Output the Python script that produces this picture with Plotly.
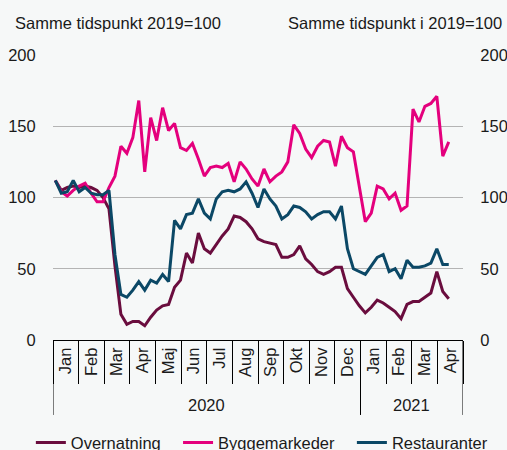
import numpy as np
import plotly.graph_objects as go

# ---- data (weekly index, same time 2019 = 100) ----
months = ["Jan", "Feb", "Mar", "Apr", "Maj", "Jun", "Jul", "Aug", "Sep", "Okt", "Nov", "Dec",
          "Jan", "Feb", "Mar", "Apr"]
years = ["2020", "2021"]
months_per_year = [12, 4]
y_ticks = [0, 50, 100, 150, 200]

overnatning = [112, 105, 107, 108, 107, 108, 107, 105, 100, 92, 52, 18, 11, 13, 13, 10, 16, 21,
               24, 25, 37, 42, 61, 54, 75, 64, 61, 67, 73, 78, 87, 86, 83, 78, 71, 69, 68, 67,
               58, 58, 60, 66, 57, 53, 48, 46, 48, 51, 51, 36, 30, 24, 19, 23, 28, 26, 23, 20,
               15, 25, 27, 27, 30, 33, 48, 34, 29]
byggemarkeder = [112, 104, 101, 105, 108, 110, 103, 97, 97, 107, 115, 136, 131, 142, 168, 118,
                 156, 140, 163, 147, 152, 135, 133, 138, 127, 115, 121, 122, 121, 124, 111, 125,
                 120, 113, 108, 120, 111, 115, 118, 125, 151, 145, 134, 128, 136, 140, 139, 122,
                 143, 135, 132, 108, 83, 89, 108, 106, 99, 103, 91, 94, 162, 153, 164, 166, 171,
                 129, 139]
restauranter = [112, 103, 104, 112, 104, 107, 103, 102, 102, 105, 60, 32, 30, 35, 41, 35, 42, 40,
                46, 41, 84, 78, 88, 89, 99, 89, 85, 99, 104, 105, 104, 106, 111, 103, 93, 106, 99,
                94, 85, 88, 94, 93, 90, 85, 88, 90, 90, 85, 94, 64, 50, 48, 46, 52, 58, 60, 48,
                50, 43, 56, 51, 51, 52, 54, 64, 53, 53]

series = [("Overnatning", overnatning, "#6a0d3e", "legend"),
          ("Byggemarkeder", byggemarkeder, "#e4007d", "legend2"),
          ("Restauranter", restauranter, "#0b4866", "legend3")]

weeks = np.arange(len(overnatning))

# axis geometry (week units; months drawn as equal-width groups)
X0, X1 = -0.39, 68.39
edges = np.linspace(X0, X1, len(months) + 1)
centers = (edges[:-1] + edges[1:]) / 2

FONT = "Liberation Sans, Arial, sans-serif"
FS = 16.5
TXT = "#1a1a1a"
BG = "#f6f8f8"

fig = go.Figure()
for name, vals, col, lg in series:
    fig.add_trace(go.Scatter(x=weeks, y=vals, mode="lines", name=name,
                             line=dict(color=col, width=3), legend=lg))

# invisible trace on right axis so it is drawn
fig.add_trace(go.Scatter(x=[weeks[0]], y=[overnatning[0]], yaxis="y2", mode="lines",
                         showlegend=False, hoverinfo="skip", line=dict(width=0)))

shapes = []
# reference line at 100
shapes.append(dict(type="line", xref="paper", x0=0, x1=1, yref="y", y0=100, y1=100,
                   line=dict(color="black", width=1), layer="between"))
# year separators
bounds = [0] + list(np.cumsum(months_per_year))
for b in bounds:
    shapes.append(dict(type="line", xref="x", x0=edges[b], x1=edges[b], yref="paper",
                       y0=0, y1=-0.263, line=dict(color="black", width=1)))

annotations = []
for k, yr in enumerate(years):
    annotations.append(dict(text=yr, xref="x", x=(edges[bounds[k]] + edges[bounds[k + 1]]) / 2,
                            yref="paper", y=-0.228, yanchor="middle", xanchor="center",
                            showarrow=False, font=dict(size=FS, color=TXT, family=FONT)))
annotations.append(dict(text="Samme tidspunkt 2019=100", xref="paper", x=-0.0975, xanchor="left",
                        yref="paper", y=1.114, yanchor="middle", showarrow=False,
                        font=dict(size=FS, color=TXT, family=FONT)))
annotations.append(dict(text="Samme tidspunkt i 2019=100", xref="paper", x=1.1, xanchor="right",
                        yref="paper", y=1.114, yanchor="middle", showarrow=False,
                        font=dict(size=FS, color=TXT, family=FONT)))

yax = dict(range=[0, 200], tickvals=y_ticks, showgrid=True, gridcolor="#b4b4b4", gridwidth=1,
           zeroline=False, ticks="outside", ticklen=13, tickcolor="rgba(0,0,0,0)",
           tickfont=dict(size=FS, color=TXT, family=FONT), fixedrange=True)

leg_common = dict(orientation="h", yref="paper", y=-0.3604, yanchor="middle", xanchor="left",
                  bgcolor="rgba(0,0,0,0)", font=dict(size=FS, color=TXT, family=FONT))

fig.update_layout(
    width=507, height=450,
    margin=dict(l=53, r=44, t=55, b=110, autoexpand=False),
    paper_bgcolor=BG, plot_bgcolor=BG,
    font=dict(family=FONT, size=FS, color=TXT),
    xaxis=dict(range=[X0, X1], tickmode="array", tickvals=centers, ticktext=months,
               tickangle=-90, ticks="", showgrid=False, zeroline=False,
               showline=True, linecolor="black", linewidth=1,
               tickfont=dict(size=FS, color=TXT, family=FONT), fixedrange=True,
               minor=dict(tickmode="array", tickvals=edges, ticks="outside", ticklen=43,
                          tickcolor="black", tickwidth=1, showgrid=False)),
    yaxis=yax,
    yaxis2=dict(yax, overlaying="y", side="right", showgrid=False),
    legend=dict(leg_common, x=-0.054),
    legend2=dict(leg_common, x=0.305),
    legend3=dict(leg_common, x=0.729),
    shapes=shapes,
    annotations=annotations,
    showlegend=True,
)

fig.write_html(
    "out.html",
    config={"displayModeBar": False},
    post_script=("document.body.style.margin='0';document.body.style.overflow='hidden';"
                 "document.body.style.background='" + BG + "';"),
)
